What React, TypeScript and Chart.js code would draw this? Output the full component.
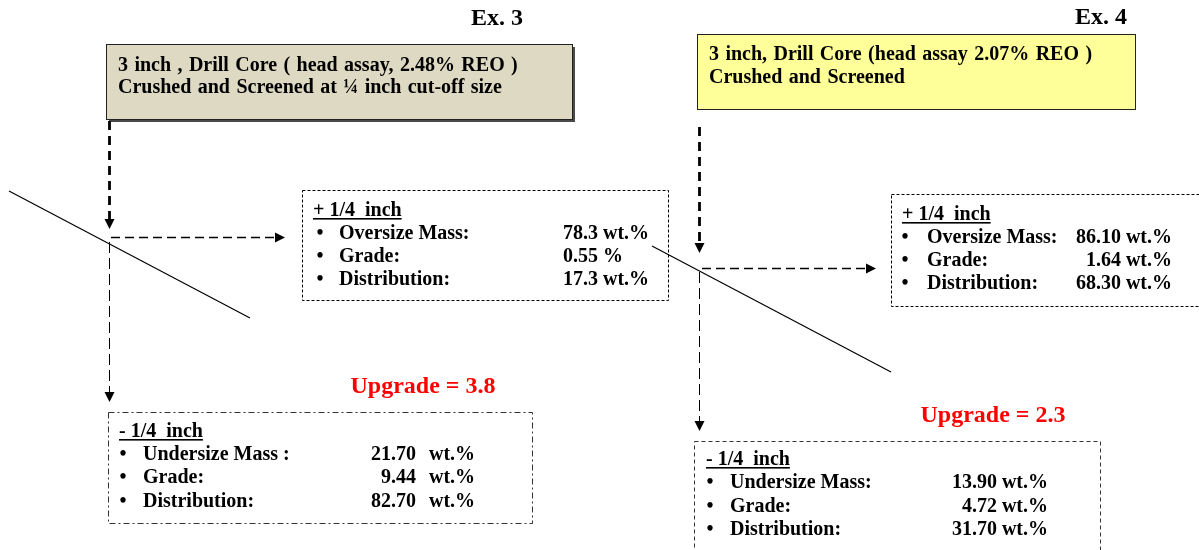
import React, { useEffect, useRef } from "react";
import { Chart, registerables } from "chart.js";

Chart.register(...registerables);

// ---------------- data ----------------
const exampleLabels = ["Ex. 3", "Ex. 4"];
const feedLine1 = [
  "3 inch , Drill Core ( head assay, 2.48% REO )",
  "3 inch, Drill Core (head assay 2.07% REO )",
];
const feedLine2 = ["Crushed and Screened at \u00BC inch cut-off size", "Crushed and Screened"];
const oversizeHeader = "+ 1/4  inch";
const undersizeHeader = "- 1/4  inch";
const oversizeLabels = ["Oversize Mass:", "Grade:", "Distribution:"];
const undersizeLabels = [
  ["Undersize Mass :", "Grade:", "Distribution:"],
  ["Undersize Mass:", "Grade:", "Distribution:"],
];
const oversizeValues = [
  ["78.3", "0.55", "17.3"],
  ["86.10", "1.64", "68.30"],
];
const oversizeUnits = [
  ["wt.%", "%", "wt.%"],
  ["wt.%", "wt.%", "wt.%"],
];
const undersizeValues = [
  ["21.70", "9.44", "82.70"],
  ["13.90", "4.72", "31.70"],
];
const undersizeUnits = [
  ["wt.%", "wt.%", "wt.%"],
  ["wt.%", "wt.%", "wt.%"],
];
const upgradeValues = ["3.8", "2.3"];

// ---------------- layout (pixel space of the 1199x550 canvas) ----------------
const W = 1199;
const H = 550;
const FONT = '"Liberation Serif", "Times New Roman", serif';

const layout = [
  {
    ex: { x: 497, y: 25 },
    feed: { x: 106, y: 44, w: 466, h: 75, fill: "#DDD9C3", shadow: true, tx: 118, ty: [71, 93] },
    over: { x: 302, y: 190, w: 366, h: 110, dash: [3, 2], hx: 313, bx: 320, lx: 339, vx: 563, valueMode: "left", ys: [216, 239, 262, 285] },
    under: { x: 108, y: 412, w: 424, h: 111, dash: [6, 3, 2, 3], hx: 119, bx: 123, lx: 143, vx: 416, ux: 429, valueMode: "split", ys: [437, 460, 483, 507] },
    upgrade: { x: 423, y: 393 },
    diag: [[9, 191], [250, 318]],
    down: { x: 109.5, y0: 121, tip: 229 },
    right: { y: 237.5, x0: 111, tip: 285 },
    down2: { x: 109.5, y0: 242, tip: 402 },
  },
  {
    ex: { x: 1101, y: 24 },
    feed: { x: 697, y: 34, w: 438, h: 75, fill: "#FFFF99", shadow: false, tx: 709, ty: [60, 83] },
    over: { x: 891, y: 194, w: 320, h: 112, dash: [3, 2], hx: 902, bx: 905, lx: 927, vx: 1172, valueMode: "right", ys: [220, 243, 266, 289] },
    under: { x: 694, y: 441, w: 406, h: 130, dash: [4, 3], hx: 706, bx: 710, lx: 730, vx: 1048, valueMode: "right", ys: [465, 488, 512, 535] },
    upgrade: { x: 993, y: 422 },
    diag: [[652, 246], [891, 372]],
    down: { x: 699.5, y0: 127, tip: 253 },
    right: { y: 268.5, x0: 702, tip: 876 },
    down2: { x: 699.5, y0: 272, tip: 431 },
  },
];

function buildDatasets() {
  const ds: any[] = [];
  layout.forEach((L, i) => {
    ds.push({
      label: `${exampleLabels[i]} diagonal`,
      data: L.diag.map(([x, y]) => ({ x, y })),
      borderColor: "#000",
      borderWidth: 1.2,
    });
    ds.push({
      label: `${exampleLabels[i]} feed`,
      data: [{ x: L.down.x, y: L.down.y0 }, { x: L.down.x, y: L.down.tip - 9 }],
      borderColor: "#000",
      borderWidth: 2.8,
      borderDash: [9, 6],
    });
    ds.push({
      label: `${exampleLabels[i]} oversize`,
      data: [{ x: L.right.x0, y: L.right.y }, { x: L.right.tip - 9, y: L.right.y }],
      borderColor: "#000",
      borderWidth: 1.3,
      borderDash: [9, 5],
    });
    ds.push({
      label: `${exampleLabels[i]} undersize`,
      data: [{ x: L.down2.x, y: L.down2.y0 }, { x: L.down2.x, y: L.down2.tip - 9 }],
      borderColor: "#000",
      borderWidth: 1,
      borderDash: [11, 5],
    });
  });
  return ds.map((d) => ({
    ...d,
    type: "line",
    showLine: true,
    pointRadius: 0,
    fill: false,
    clip: false,
    tension: 0,
  }));
}

const diagramPlugin = {
  id: "diagram",
  beforeDatasetsDraw(chart: any) {
    const ctx = chart.ctx as CanvasRenderingContext2D;
    const sx = chart.scales.x;
    const sy = chart.scales.y;
    const X = (v: number) => sx.getPixelForValue(v);
    const Y = (v: number) => sy.getPixelForValue(v);

    ctx.save();
    ctx.fillStyle = "#fff";
    ctx.fillRect(0, 0, chart.width, chart.height);

    const text = (s: string, x: number, y: number, size: number, align: CanvasTextAlign = "left", color = "#000", wordSpacing = "0px") => {
      ctx.font = `bold ${size}px ${FONT}`;
      (ctx as any).wordSpacing = wordSpacing;
      ctx.textAlign = align;
      ctx.textBaseline = "alphabetic";
      ctx.fillStyle = color;
      ctx.fillText(s, X(x), Y(y));
      const w = ctx.measureText(s).width;
      (ctx as any).wordSpacing = "0px";
      return w;
    };

    const box = (b: any, dash: number[], color = "#000") => {
      ctx.save();
      ctx.strokeStyle = color;
      ctx.lineWidth = 1;
      ctx.setLineDash(dash);
      ctx.strokeRect(Math.round(X(b.x)) + 0.5, Math.round(Y(b.y)) + 0.5, b.w, b.h);
      ctx.restore();
    };

    layout.forEach((L, i) => {
      // example label
      text(exampleLabels[i], L.ex.x, L.ex.y, 24, "center");

      // feed box
      const f = L.feed;
      if (f.shadow) {
        ctx.fillStyle = "#4a4a4a";
        ctx.fillRect(X(f.x) + 3, Y(f.y) + 3, f.w, f.h);
      }
      ctx.fillStyle = f.fill;
      ctx.fillRect(X(f.x), Y(f.y), f.w, f.h);
      ctx.strokeStyle = "#222";
      ctx.lineWidth = 1;
      ctx.setLineDash([]);
      ctx.strokeRect(Math.round(X(f.x)) + 0.5, Math.round(Y(f.y)) + 0.5, f.w, f.h);
      text(feedLine1[i], f.tx, f.ty[0], 20, "left", "#000", "1.4px");
      text(feedLine2[i], f.tx, f.ty[1], 20, "left", "#000", "1.4px");

      // oversize box
      const o = L.over;
      box(o, o.dash, "#000");
      const hw = text(oversizeHeader, o.hx, o.ys[0], 20);
      ctx.fillRect(X(o.hx), Y(o.ys[0]) + 2, hw, 1.6);
      oversizeLabels.forEach((lab, r) => {
        const y = o.ys[r + 1];
        text("\u2022", o.bx, y, 20, "center");
        text(lab, o.lx, y, 20);
        const val = `${oversizeValues[i][r]} ${oversizeUnits[i][r]}`;
        text(val, o.vx, y, 20, o.valueMode === "right" ? "right" : "left");
      });

      // undersize box
      const u = L.under;
      box(u, u.dash, "#333");
      const hw2 = text(undersizeHeader, u.hx, u.ys[0], 20);
      ctx.fillRect(X(u.hx), Y(u.ys[0]) + 2, hw2, 1.6);
      undersizeLabels[i].forEach((lab, r) => {
        const y = u.ys[r + 1];
        text("\u2022", u.bx, y, 20, "center");
        text(lab, u.lx, y, 20);
        if (u.valueMode === "split") {
          text(undersizeValues[i][r], u.vx, y, 20, "right");
          text(undersizeUnits[i][r], (u as any).ux, y, 20, "left");
        } else {
          text(`${undersizeValues[i][r]} ${undersizeUnits[i][r]}`, u.vx, y, 20, "right");
        }
      });

      // upgrade
      text(`Upgrade = ${upgradeValues[i]}`, L.upgrade.x, L.upgrade.y, 24, "center", "#FF0000");
    });
    ctx.restore();
  },
  afterDatasetsDraw(chart: any) {
    const ctx = chart.ctx as CanvasRenderingContext2D;
    const sx = chart.scales.x;
    const sy = chart.scales.y;
    const X = (v: number) => sx.getPixelForValue(v);
    const Y = (v: number) => sy.getPixelForValue(v);
    ctx.save();
    ctx.fillStyle = "#000";
    const head = (x: number, y: number, dir: "down" | "right") => {
      ctx.beginPath();
      if (dir === "down") {
        ctx.moveTo(X(x), Y(y));
        ctx.lineTo(X(x) - 5, Y(y) - 10);
        ctx.lineTo(X(x) + 5, Y(y) - 10);
      } else {
        ctx.moveTo(X(x), Y(y));
        ctx.lineTo(X(x) - 10, Y(y) - 5);
        ctx.lineTo(X(x) - 10, Y(y) + 5);
      }
      ctx.closePath();
      ctx.fill();
    };
    layout.forEach((L) => {
      head(L.down.x, L.down.tip, "down");
      head(L.right.tip, L.right.y, "right");
      head(L.down2.x, L.down2.tip, "down");
    });
    ctx.restore();
  },
};

export default function App() {
  const ref = useRef<HTMLCanvasElement | null>(null);
  useEffect(() => {
    document.body.style.margin = "0";
    if (!ref.current) return;
    const chart = new Chart(ref.current, {
      type: "scatter",
      data: { datasets: buildDatasets() },
      options: {
        animation: false,
        responsive: false,
        maintainAspectRatio: false,
        layout: { padding: 0 },
        events: [],
        plugins: { legend: { display: false }, tooltip: { enabled: false }, title: { display: false } },
        scales: {
          x: { type: "linear", min: 0, max: W, display: false },
          y: { type: "linear", min: 0, max: H, reverse: true, display: false },
        },
      },
      plugins: [diagramPlugin],
    } as any);
    return () => chart.destroy();
  }, []);
  return (
    <div style={{ width: W, height: H, background: "#fff" }}>
      <canvas ref={ref} width={W} height={H} style={{ display: "block", width: W, height: H }} />
    </div>
  );
}
